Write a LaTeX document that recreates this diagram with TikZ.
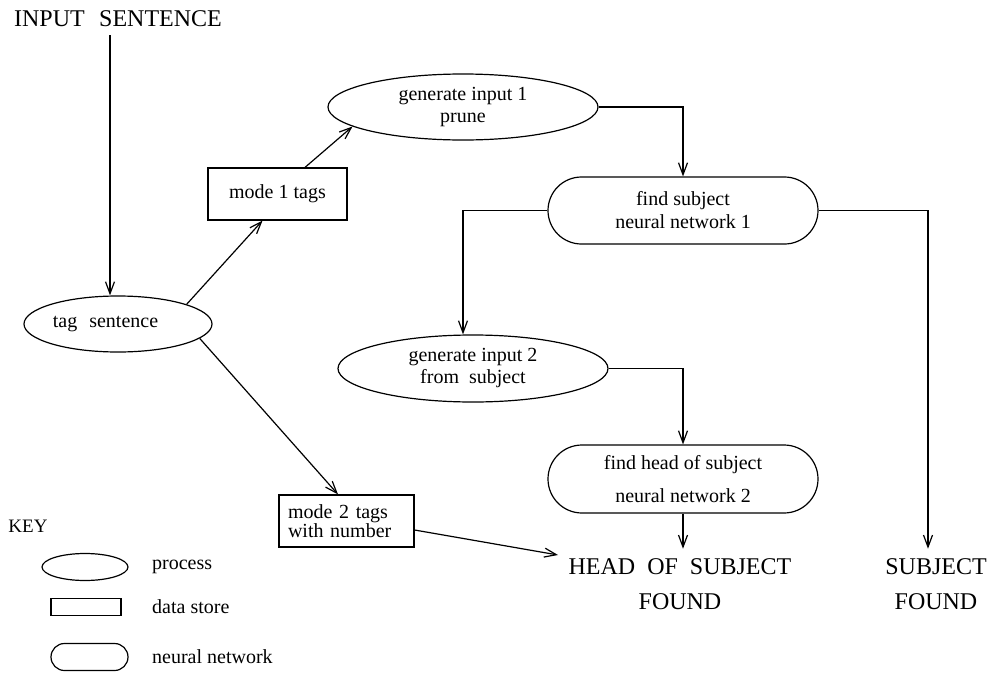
\documentclass[tikz,border=0pt]{standalone}
\usepackage{fontspec}
\setmainfont{Liberation Serif}
\usetikzlibrary{shapes.geometric,shapes.misc,arrows.meta}
\begin{document}
\begin{tikzpicture}[x=1pt,y=-1pt,
  lw/.style={line width=1.2pt},
  proc/.style={ellipse, draw, lw, inner sep=0pt, align=center, font=\fontsize{20}{22}\selectfont},
  store/.style={rectangle, draw, lw, inner sep=0pt, font=\fontsize{20}{15}\selectfont},
  nnet/.style={rounded rectangle, draw, lw, inner sep=0pt, align=center, font=\fontsize{20}{23}\selectfont},
  big/.style={font=\fontsize{24}{35}\selectfont, inner sep=0pt, align=center},
  keytext/.style={font=\fontsize{20}{22}\selectfont, inner sep=0pt, anchor=west},
  arr/.style={lw, -{Straight Barb[length=12pt,width=9pt]}}]
\path[use as bounding box] (0,0) rectangle (989,675);

% main nodes
\node[big] (in) at (118,19) {INPUT\hspace{0.6em}SENTENCE};
\node[proc, minimum width=188pt, minimum height=56pt] (tag) at (118,324) {tag\hspace{0.6em}sentence\hspace{25pt}};
\node[store, minimum width=139pt, minimum height=52pt] (m1) at (277.5,194) {mode 1 tags};
\node[proc, minimum width=270pt, minimum height=66pt] (g1) at (463,107) {generate input 1\\prune};
\node[nnet, minimum width=270pt, minimum height=67pt] (fs) at (683,210.5) {find subject\\neural network 1};
\node[proc, minimum width=270pt, minimum height=67pt] (g2) at (473,368.5) {generate input 2\\from\hspace{0.5em}subject};
\node[nnet, minimum width=270pt, minimum height=68pt] (fh) at (683,479) {find head of subject\\[10pt]neural network 2};
\node[store, text width=117pt, inner xsep=9pt, minimum height=52pt, align=left] (m2) at (346.5,521) {mode 2 tags\\with number};
\node[big] (head) at (680,584.5) {HEAD\hspace{0.5em}OF\hspace{0.5em}SUBJECT\\FOUND};
\node[big] (subj) at (936,584.5) {SUBJECT\\FOUND};
\coordinate (hn) at ([yshift=10pt]head.north);
\coordinate (hin) at (558,555);

% key
\node[font=\fontsize{19}{19}\selectfont, inner sep=0pt] (key) at (28,526) {KEY};
\node[ellipse, draw, lw, minimum width=86pt, minimum height=27pt, inner sep=0pt] (kp) at (85,567) {};
\node[keytext] (kpt) at (152,567) {process};
\node[rectangle, draw, lw, minimum width=70pt, minimum height=17pt, inner sep=0pt] (kd) at (86,607) {};
\node[keytext] (kdt) at (152,607) {data store};
\node[rounded rectangle, draw, lw, minimum width=77pt, minimum height=27pt, inner sep=0pt] (kn) at (89.5,657) {};
\node[keytext] (knt) at (152,657) {neural network};

% connectors
\draw[arr] ([xshift=-8pt,yshift=-8pt]in.south) -- ([xshift=-8pt]tag.north);
\draw[arr] (tag.16) -- ([xshift=-15pt]m1.south);
\draw[arr] ([xshift=27.5pt]m1.north) -- (g1.190);
\draw[arr] (g1.east) -| (fs.north);
\draw[arr] (fs.west) -| ([xshift=-10pt]g2.north);
\draw[arr] (fs.east) -| ([xshift=-8pt,yshift=10pt]subj.north);
\draw[arr] (g2.east) -| (fh.north);
\draw[arr] (fh.south) -- (fh.south |- hn);
\draw[arr] (tag.-10) -- ([xshift=-8.5pt]m2.north);
\draw[arr] ([yshift=-9pt]m2.east) -- (hin);
\end{tikzpicture}
\end{document}
